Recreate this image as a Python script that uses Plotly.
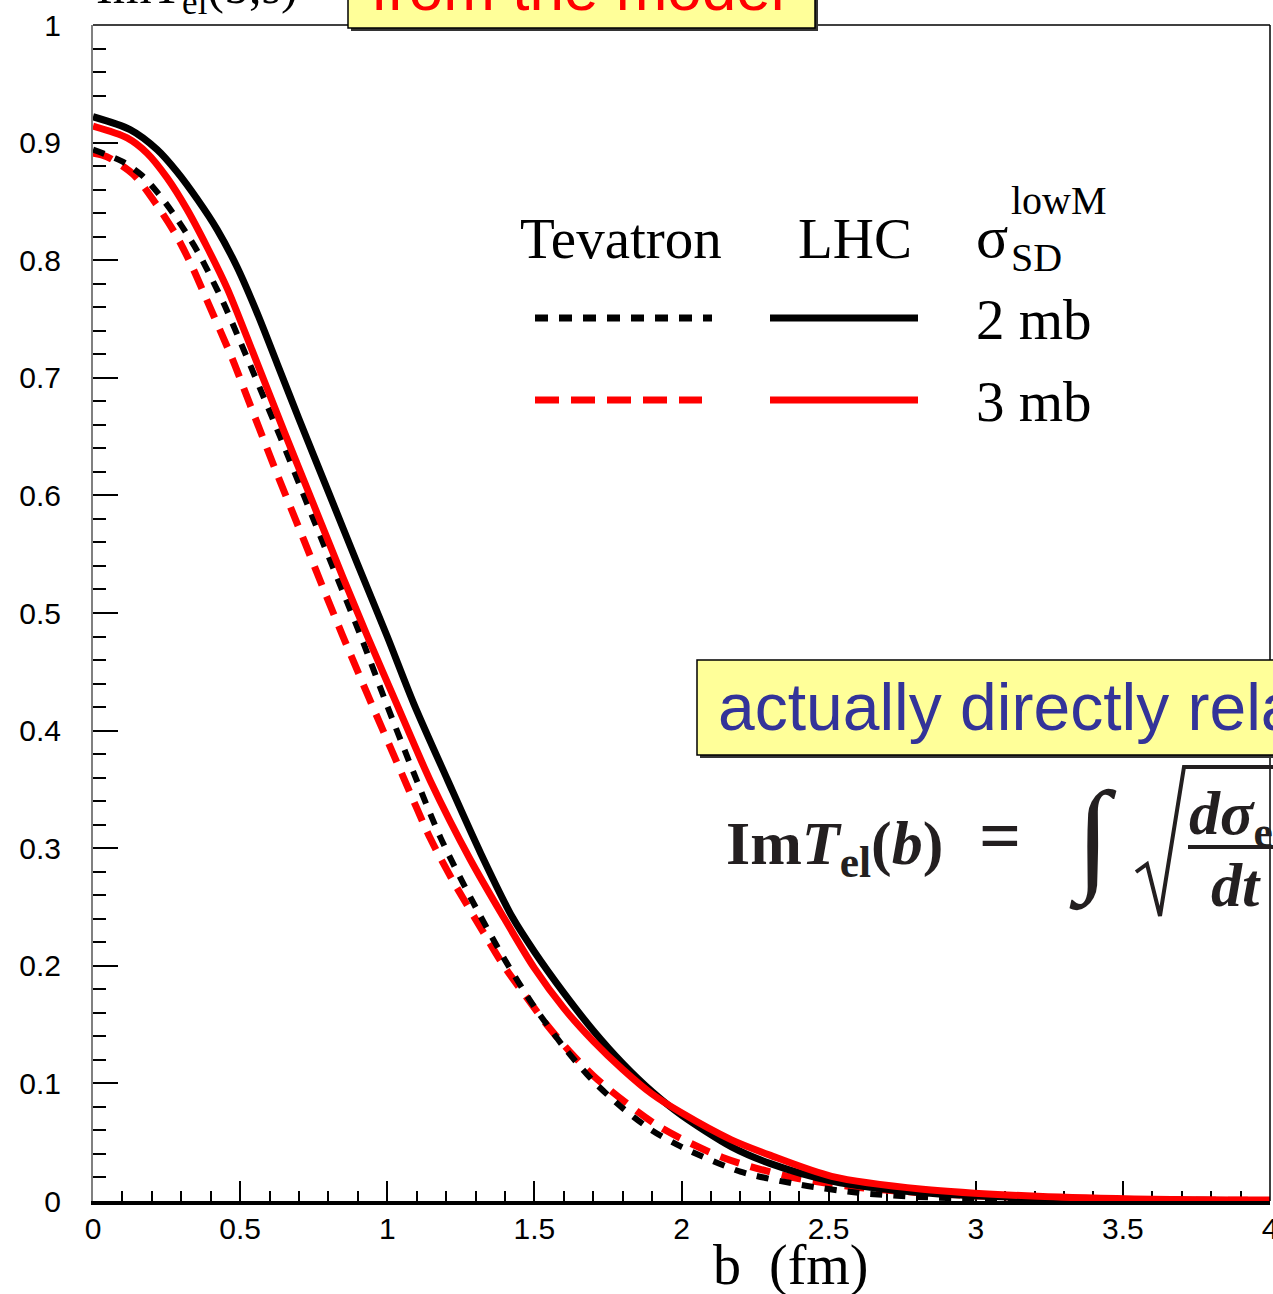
import plotly.graph_objects as go

# Im T_el(b, s) versus impact parameter b (fm)
# LHC, sigma_SD(lowM) = 2 mb
b_lhc_2mb = [0.0, 0.126, 0.218, 0.286, 0.354, 0.422, 0.49, 0.558, 0.626, 0.70, 0.80, 0.90,
             1.0, 1.09, 1.205, 1.317, 1.426, 1.5, 1.6, 1.7, 1.8, 1.9, 2.0, 2.17, 2.3, 2.51,
             2.82, 3.21, 3.6, 4.0]
imt_lhc_2mb = [0.922, 0.911, 0.894, 0.875, 0.852, 0.826, 0.794, 0.755, 0.712, 0.665, 0.603, 0.541,
               0.480, 0.423, 0.358, 0.296, 0.241, 0.212, 0.177, 0.145, 0.117, 0.093, 0.073, 0.046,
               0.032, 0.017, 0.007, 0.0025, 0.0009, 0.0003]

# LHC, sigma_SD(lowM) = 3 mb
b_lhc_3mb = [0.0, 0.116, 0.184, 0.252, 0.320, 0.388, 0.456, 0.524, 0.65, 0.75, 0.85, 0.933,
             1.035, 1.147, 1.283, 1.396, 1.5, 1.6, 1.7, 1.8, 1.9, 2.0, 2.17, 2.3, 2.51, 2.82,
             3.21, 3.6, 4.0]
imt_lhc_3mb = [0.914, 0.904, 0.891, 0.870, 0.843, 0.811, 0.776, 0.734, 0.654, 0.592, 0.530, 0.480,
               0.421, 0.357, 0.290, 0.241, 0.198, 0.164, 0.136, 0.112, 0.091, 0.075, 0.052, 0.039,
               0.021, 0.010, 0.004, 0.0015, 0.0008]

# Tevatron, sigma_SD(lowM) = 2 mb
b_tev_2mb = [0.0, 0.099, 0.167, 0.221, 0.272, 0.32, 0.361, 0.398, 0.443, 0.50, 0.626, 0.739,
             0.851, 0.909, 1.0, 1.09, 1.181, 1.3, 1.4, 1.5, 1.6, 1.7, 1.8, 1.9, 2.0, 2.2, 2.4,
             2.6, 2.8, 3.0, 3.4, 4.0]
imt_tev_2mb = [0.894, 0.884, 0.872, 0.857, 0.840, 0.822, 0.805, 0.787, 0.764, 0.731, 0.656, 0.586,
               0.517, 0.481, 0.421, 0.364, 0.309, 0.250, 0.205, 0.165, 0.131, 0.102, 0.079, 0.060,
               0.046, 0.025, 0.014, 0.007, 0.0035, 0.002, 0.0008, 0.0002]

# Tevatron, sigma_SD(lowM) = 3 mb
b_tev_3mb = [0.0, 0.047, 0.137, 0.211, 0.283, 0.336, 0.387, 0.436, 0.477, 0.534, 0.626, 0.715,
             0.797, 0.848, 0.902, 0.953, 1.052, 1.147, 1.226, 1.328, 1.396, 1.477, 1.545, 1.624,
             1.716, 1.92, 2.14, 2.38, 2.62, 2.95, 3.4, 4.0]
imt_tev_3mb = [0.891, 0.888, 0.873, 0.849, 0.821, 0.795, 0.766, 0.738, 0.714, 0.677, 0.618, 0.563,
               0.512, 0.481, 0.449, 0.419, 0.362, 0.308, 0.271, 0.228, 0.200, 0.172, 0.149, 0.126,
               0.103, 0.064, 0.037, 0.020, 0.011, 0.005, 0.0015, 0.0005]

x_ticks = [0, 0.5, 1, 1.5, 2, 2.5, 3, 3.5, 4]
x_tick_text = ["0", "0.5", "1", "1.5", "2", "2.5", "3", "3.5", "4"]
y_ticks = [0, 0.1, 0.2, 0.3, 0.4, 0.5, 0.6, 0.7, 0.8, 0.9, 1.0]
y_tick_text = ["0", "0.1", "0.2", "0.3", "0.4", "0.5", "0.6", "0.7", "0.8", "0.9", "1"]

W, H = 1273, 1294
ML, MR, MT, MB = 93, 3, 25, 93
PW = W - ML - MR
PH = H - MT - MB


def px(x):
    """page pixel column -> paper x"""
    return (x - ML) / PW


def py(y):
    """page pixel row -> paper y"""
    return (H - MB - y) / PH


SERIF = "Liberation Serif"
SANS = "Liberation Sans"
RED = "#ff0000"
INK = "#231f20"

fig = go.Figure()

curves = [
    (b_tev_3mb, imt_tev_3mb, RED, 7, "20px,12px"),
    (b_tev_2mb, imt_tev_2mb, "black", 6, "12px,11px"),
    (b_lhc_2mb, imt_lhc_2mb, "black", 7, "solid"),
    (b_lhc_3mb, imt_lhc_3mb, RED, 7, "solid"),
]
for bx, vy, col, w, dash in curves:
    fig.add_trace(go.Scatter(
        x=bx, y=vy, mode="lines",
        line=dict(color=col, width=w, dash=dash, shape="spline", smoothing=0.8),
        showlegend=False, hoverinfo="skip",
    ))

shapes = []
# frame: top and right edges
shapes.append(dict(type="line", xref="paper", yref="paper", x0=0, x1=1, y0=1, y1=1,
                   line=dict(color="black", width=1.5)))
shapes.append(dict(type="line", xref="paper", yref="paper", x0=1, x1=1, y0=0, y1=1,
                   line=dict(color="black", width=1.5)))


def boxed(x0, x1, y0, y1):
    """yellow caption box with a small drop shadow"""
    shapes.append(dict(type="rect", xref="paper", yref="paper",
                       x0=px(x0 + 3), x1=px(x1 + 3), y0=py(y1 + 3), y1=py(y0 + 3),
                       fillcolor="#333333", line=dict(width=0), layer="above"))
    shapes.append(dict(type="rect", xref="paper", yref="paper",
                       x0=px(x0), x1=px(x1), y0=py(y1), y1=py(y0),
                       fillcolor="#ffff99", line=dict(color="black", width=1.5), layer="above"))


boxed(348, 815, -40, 28)
boxed(697, 1300, 660, 755)


def sample(x0, x1, y, col, dash):
    """legend line sample"""
    shapes.append(dict(type="line", xref="paper", yref="paper",
                       x0=px(x0), x1=px(x1), y0=py(y), y1=py(y),
                       line=dict(color=col, width=7, dash=dash)))


sample(535, 712, 318, "black", "13px,11px")
sample(770, 918, 318, "black", "solid")
sample(535, 702, 400, RED, "24px,12px")
sample(770, 918, 400, RED, "solid")

# radical sign, its overbar and the fraction bar
shapes.append(dict(type="path", xref="paper", yref="paper",
                   path=f"M {px(1136)},{py(872)} L {px(1147)},{py(864)} L {px(1160)},{py(916)} "
                        f"L {px(1184)},{py(767)} L {px(1290)},{py(767)}",
                   line=dict(color=INK, width=4)))
shapes.append(dict(type="line", xref="paper", yref="paper",
                   x0=px(1188), x1=px(1290), y0=py(847), y1=py(847),
                   line=dict(color=INK, width=4)))

annotations = []


def label(text, x, y, size, family=SERIF, color="black", xanchor="left"):
    annotations.append(dict(text=text, xref="paper", yref="paper", x=px(x), y=py(y),
                            xanchor=xanchor, yanchor="middle", showarrow=False,
                            font=dict(family=family, size=size, color=color), borderpad=0))


# page title and box captions
label("ImT<sub>el</sub>(b,s)", 95, -10, 50)
label("from the model", 578, -12, 62, family=SANS, color=RED, xanchor="center")
label("actually directly related", 717, 707, 66, family=SANS, color="#333399")

# legend header and rows
label("Tevatron", 519, 238, 57)
label("LHC", 797, 238, 57)
label("σ", 975, 237, 60)
label("SD", 1010, 257, 40)
label("lowM", 1010, 200, 40)
label("2 mb", 975, 319, 57)
label("3 mb", 975, 401, 57)

# formula
label("<b>Im<i>T</i><sub>el</sub>(<i>b</i>)</b>", 725, 847, 62, color=INK)
label("<b>=</b>", 978, 836, 74, color=INK)
label("∫", 1068, 839, 124, color=INK)
label("<b><i>dσ</i><sub>el</sub></b>", 1188, 817, 62, color=INK)
label("<b><i>dt</i></b>", 1210, 885, 62, color=INK)

# x-axis title
label("b  (fm)", 712, 1265, 56)

fig.update_layout(
    width=W, height=H,
    margin=dict(l=ML, r=MR, t=MT, b=MB, pad=0, autoexpand=False),
    paper_bgcolor="white", plot_bgcolor="white",
    shapes=shapes, annotations=annotations,
    xaxis=dict(
        range=[0, 4], tickmode="array", tickvals=x_ticks, ticktext=x_tick_text,
        ticks="inside", ticklen=20, tickwidth=1.5, tickcolor="black",
        minor=dict(dtick=0.1, ticks="inside", ticklen=10, tickwidth=1.5, tickcolor="black"),
        showline=True, linecolor="black", linewidth=4, layer="below traces",
        showgrid=False, zeroline=False, ticklabelstandoff=-2, ticklabeloverflow="allow",
        automargin=False,
        tickfont=dict(family=SANS, size=30, color="black"),
    ),
    yaxis=dict(
        range=[0, 1], tickmode="array", tickvals=y_ticks, ticktext=y_tick_text,
        ticks="inside", ticklen=25, tickwidth=1.5, tickcolor="black",
        minor=dict(dtick=0.02, ticks="inside", ticklen=13, tickwidth=1.5, tickcolor="black"),
        showline=True, linecolor="#808080", linewidth=2, automargin=False,
        showgrid=False, zeroline=False, ticklabelstandoff=24,
        tickfont=dict(family=SANS, size=30, color="black"),
    ),
)

fig.write_html("out.html")
